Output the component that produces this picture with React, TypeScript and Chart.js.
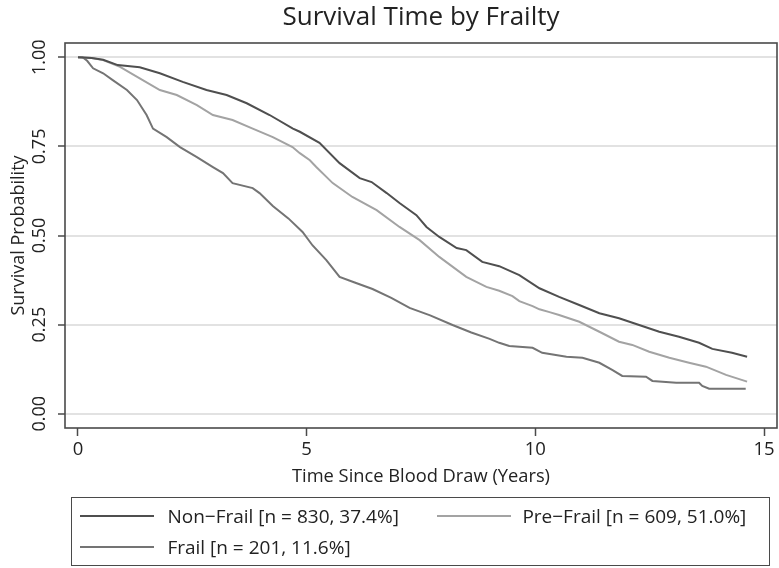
import React, { useEffect, useRef } from "react";
import { Chart, registerables } from "chart.js";

Chart.register(...registerables);

const FONT = "'Open Sans', 'Noto Sans', sans-serif";

const seriesNames = [
  "Non\u2212Frail [n = 830, 37.4%]",
  "Pre\u2212Frail [n = 609, 51.0%]",
  "Frail [n = 201, 11.6%]",
];
const seriesColors = ["#4f4f4f", "#a3a3a3", "#747474"];

const nonFrailTime = [0, 0.3, 0.55, 0.87, 1.35, 1.79, 2.29, 2.81, 3.25, 3.69, 4.19, 4.7, 4.85, 5.28, 5.72, 6.16, 6.42, 6.75, 7.03, 7.4, 7.62, 7.9, 8.28, 8.49, 8.84, 9.21, 9.65, 10.09, 10.52, 10.96, 11.4, 11.83, 12.27, 12.71, 13.14, 13.58, 13.87, 14.3, 14.63];
const nonFrailSurv = [1.0, 0.998, 0.993, 0.978, 0.972, 0.955, 0.931, 0.908, 0.894, 0.871, 0.838, 0.8, 0.791, 0.76, 0.703, 0.661, 0.65, 0.619, 0.591, 0.557, 0.524, 0.496, 0.465, 0.459, 0.426, 0.414, 0.389, 0.352, 0.328, 0.305, 0.282, 0.268, 0.249, 0.23, 0.216, 0.199, 0.182, 0.171, 0.16];

const preFrailTime = [0, 0.3, 0.55, 0.92, 1.35, 1.79, 2.16, 2.6, 2.95, 3.38, 3.82, 4.26, 4.69, 4.85, 5.07, 5.21, 5.57, 6.0, 6.53, 7.03, 7.47, 7.9, 8.49, 8.93, 9.21, 9.5, 9.65, 9.94, 10.09, 10.31, 10.52, 10.96, 11.4, 11.83, 12.12, 12.49, 12.93, 13.36, 13.73, 14.17, 14.63];
const preFrailSurv = [1.0, 0.998, 0.992, 0.973, 0.941, 0.908, 0.894, 0.866, 0.838, 0.824, 0.8, 0.776, 0.748, 0.731, 0.711, 0.692, 0.647, 0.608, 0.571, 0.524, 0.487, 0.44, 0.384, 0.356, 0.345, 0.33, 0.316, 0.302, 0.293, 0.285, 0.277, 0.258, 0.23, 0.202, 0.193, 0.174, 0.157, 0.143, 0.132, 0.109, 0.09];

const frailTime = [0, 0.1, 0.2, 0.33, 0.55, 0.76, 1.07, 1.29, 1.5, 1.64, 1.94, 2.23, 2.6, 2.95, 3.17, 3.38, 3.82, 3.97, 4.26, 4.6, 4.91, 5.13, 5.43, 5.72, 6.05, 6.44, 6.85, 7.25, 7.7, 8.19, 8.6, 9.0, 9.21, 9.43, 9.94, 10.15, 10.68, 11.03, 11.4, 11.68, 11.9, 12.42, 12.56, 13.08, 13.58, 13.65, 13.8, 14.6];
const frailSurv = [1.0, 1.0, 0.99, 0.969, 0.955, 0.936, 0.908, 0.88, 0.838, 0.8, 0.776, 0.748, 0.72, 0.692, 0.675, 0.647, 0.633, 0.619, 0.583, 0.548, 0.51, 0.472, 0.431, 0.384, 0.368, 0.35, 0.325, 0.297, 0.276, 0.249, 0.228, 0.21, 0.199, 0.19, 0.185, 0.171, 0.16, 0.157, 0.143, 0.123, 0.106, 0.104, 0.092, 0.087, 0.087, 0.078, 0.07, 0.07];

const xTickValues = [0, 5, 10, 15];
const yTickValues = [0, 0.25, 0.5, 0.75, 1];

const titleText = "Survival Time by Frailty";
const xTitle = "Time Since Blood Draw (Years)";
const yTitle = "Survival Probability";

const toPoints = (t: number[], s: number[]) => t.map((v, i) => ({ x: v, y: s[i] }));

const framePlugin = {
  id: "frame",
  afterDatasetsDraw(chart: any) {
    const { ctx, chartArea } = chart;
    ctx.save();
    ctx.strokeStyle = "#4a4a4a";
    ctx.lineWidth = 1.6;
    ctx.strokeRect(chartArea.left, chartArea.top, chartArea.right - chartArea.left, chartArea.bottom - chartArea.top);
    ctx.restore();
  },
};

export default function App() {
  const ref = useRef<HTMLCanvasElement | null>(null);

  useEffect(() => {
    if (!ref.current) return;
    const series = [
      toPoints(nonFrailTime, nonFrailSurv),
      toPoints(preFrailTime, preFrailSurv),
      toPoints(frailTime, frailSurv),
    ];
    const chart = new Chart(ref.current, {
      type: "line",
      data: {
        datasets: series.map((d, i) => ({
          label: seriesNames[i],
          data: d,
          borderColor: seriesColors[i],
          backgroundColor: seriesColors[i],
          borderWidth: 2,
          pointRadius: 0,
          tension: 0,
          fill: false,
        })),
      },
      options: {
        animation: false,
        responsive: false,
        devicePixelRatio: 1,
        layout: { padding: { left: 0, right: 2, top: 0, bottom: 0 } },
        plugins: {
          legend: { display: false },
          tooltip: { enabled: false },
          title: {
            display: true,
            text: titleText,
            fullSize: false,
            color: "#222",
            font: { family: FONT, size: 26, weight: "normal" },
            padding: { top: 1.5, bottom: 10.3 },
          },
        },
        scales: {
          x: {
            type: "linear",
            min: -0.284,
            max: 15.284,
            bounds: "data",
            afterBuildTicks: (s: any) => {
              s.ticks = xTickValues.map((v) => ({ value: v }));
            },
            afterFit: (s: any) => {
              s.height = 140;
            },
            border: { display: false },
            grid: {
              drawOnChartArea: false,
              drawTicks: true,
              tickLength: 8,
              tickColor: "#4a4a4a",
              tickWidth: 1.5,
            },
            ticks: {
              color: "#222",
              font: { family: FONT, size: 18.5 },
              padding: 3,
              maxRotation: 0,
              autoSkip: false,
              callback: (v: any) => String(v),
            },
            title: {
              display: true,
              text: xTitle,
              color: "#222",
              font: { family: FONT, size: 18.3 },
              padding: { top: 0, bottom: 80 },
            },
          },
          y: {
            type: "linear",
            min: -0.04,
            max: 1.04,
            bounds: "data",
            afterBuildTicks: (s: any) => {
              s.ticks = yTickValues.map((v) => ({ value: v }));
            },
            afterFit: (s: any) => {
              s.width = 65;
            },
            border: { display: false },
            grid: {
              color: "#e2e2e2",
              lineWidth: 2,
              drawTicks: true,
              tickLength: 7,
              tickColor: "#4a4a4a",
              tickWidth: 1.5,
            },
            ticks: {
              color: "#222",
              font: { family: FONT, size: 18 },
              minRotation: 90,
              maxRotation: 90,
              crossAlign: "center",
              padding: 0,
              autoSkip: false,
              callback: (v: any) => Number(v).toFixed(2),
            },
            title: {
              display: true,
              text: yTitle,
              color: "#222",
              font: { family: FONT, size: 18 },
              padding: { top: 8, bottom: 0 },
            },
          },
        },
      },
      plugins: [framePlugin],
    } as any);
    return () => chart.destroy();
  }, []);

  const rowCenters = [20, 51];
  const itemPos = [
    { line: 10, text: 97, row: 0 },
    { line: 367, text: 452, row: 0 },
    { line: 10, text: 97, row: 1 },
  ];

  return (
    <div style={{ position: "absolute", left: 0, top: 0, width: 779, height: 568, background: "#fff" }}>
      <canvas ref={ref} width={779} height={568} style={{ position: "absolute", left: 0, top: 0, width: 779, height: 568 }} />
      <div
        style={{
          position: "absolute",
          left: 71,
          top: 497,
          width: 699,
          height: 69,
          boxSizing: "border-box",
          border: "1.6px solid #4a4a4a",
          fontFamily: FONT,
          fontSize: 19,
          color: "#222",
        }}
      >
        {seriesNames.map((name, i) => {
          const p = itemPos[i];
          const cy = rowCenters[p.row] - 1.6;
          return (
            <React.Fragment key={name}>
              <div
                style={{
                  position: "absolute",
                  left: p.line - 1.6,
                  top: cy - 1,
                  width: 74,
                  height: 2,
                  background: seriesColors[i],
                }}
              />
              <div
                style={{
                  position: "absolute",
                  left: p.text - 1.6,
                  top: cy - 13,
                  height: 26,
                  lineHeight: "26px",
                  whiteSpace: "nowrap",
                }}
              >
                {name}
              </div>
            </React.Fragment>
          );
        })}
      </div>
    </div>
  );
}
